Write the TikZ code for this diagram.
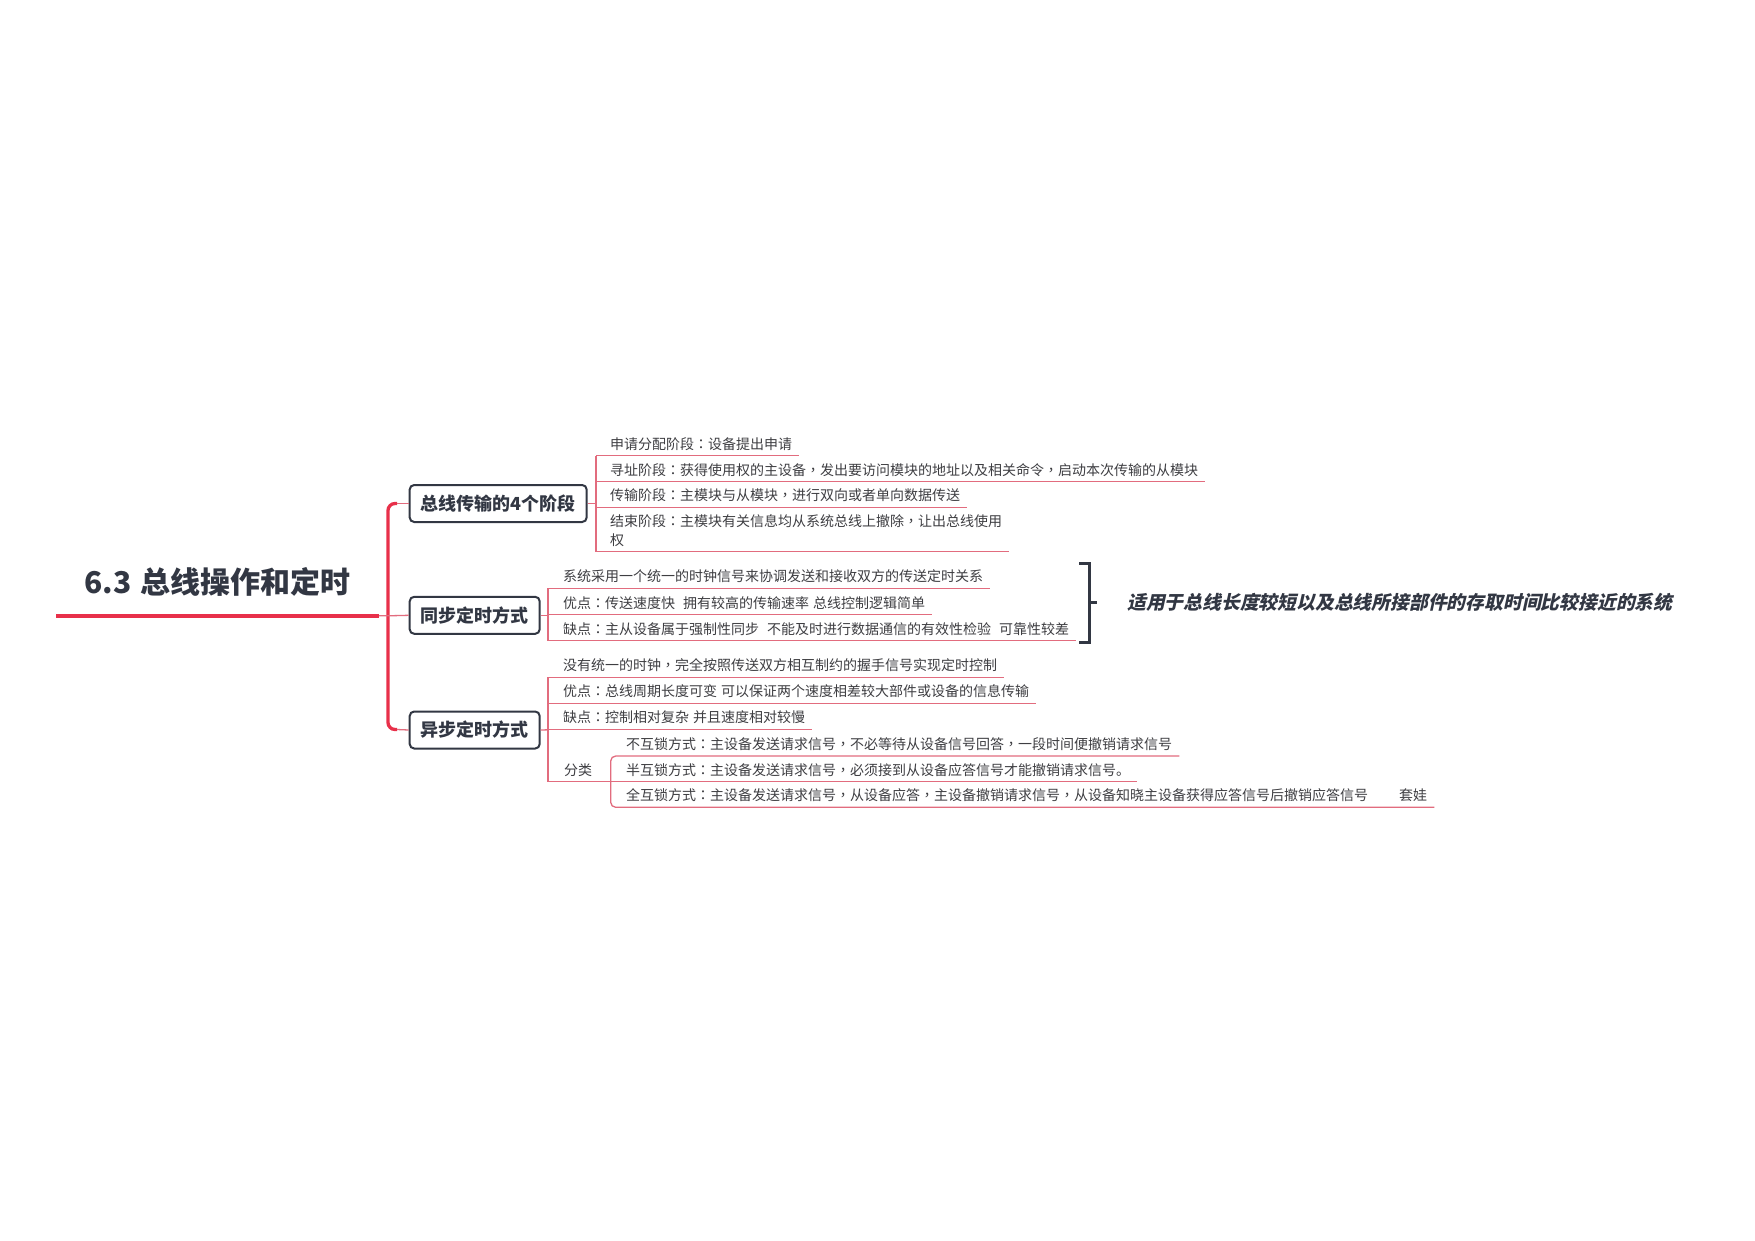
\documentclass[tikz,border=0pt]{standalone}
\usepackage{fontspec}
\setmainfont{Noto Sans CJK SC}
\newfontfamily\slantcjk{Noto Sans CJK SC}[FakeSlant=0.22]
\newfontfamily\tcpunct{Noto Sans CJK TC}
\newcommand\zcolon{{\tcpunct ：}}
\newcommand\zcomma{{\tcpunct ，}}
\usetikzlibrary{calc}
\definecolor{mainred}{RGB}{232,48,74}
\definecolor{thinred}{RGB}{226,108,126}
\definecolor{dark}{RGB}{50,55,67}
\definecolor{txt}{RGB}{62,62,66}
\begin{document}
\begin{tikzpicture}[x=1pt,y=-1pt,
  thinline/.style={draw=thinred,line width=1.3pt},
  leaf/.style={anchor=base west,inner sep=0pt,font=\fontsize{14}{18.3}\selectfont,text=txt},
  topic/.style={draw=dark,line width=2pt,rounded corners=4.5pt,fill=white,anchor=west,
    inner xsep=11pt,inner ysep=0pt,minimum height=37pt,font=\bfseries\fontsize{18}{22}\selectfont,text=dark},
  bigbrace/.style={draw=mainred,line width=3.3pt,rounded corners=7pt},
  summ/.style={draw=dark,line width=3pt},
]
\useasboundingbox[fill=white] (0,0) rectangle (1755,1240);

% root
\node[anchor=base west,inner sep=0pt,font=\bfseries\fontsize{30}{36}\selectfont,text=dark] (title) at (84.5,593) {6.3\hspace{8.5pt}总线操作和定时};
\coordinate (root) at (56,615.8);
\coordinate (rootend) at (379,615.8);
\coordinate (bmid) at (388,615.8);
\coordinate (btop) at (397,503.5);
\coordinate (bbot) at (397,729.5);
\draw[mainred,line width=4.3pt] (root) -- (rootend);

% topics
\node[topic] (t1) at (408.7,503.5) {总线传输的4个阶段};
\node[topic] (t2) at (408.7,615.3) {同步定时方式};
\node[topic] (t3) at (408.7,730) {异步定时方式};

\draw[bigbrace] (btop) -- (388,503.5) -- (388,729.5) -- (bbot);
\draw[thinline] (rootend) -- (bmid) -- (t2.west);
\draw[thinline] (btop) -- (t1.west);
\draw[thinline] (bbot) -- (t3.west);

% group 1
\coordinate (g1) at (596,503.5);
\draw[thinline] (t1.east) -- (g1);
\node[leaf] (a1) at (610,449.2) {申请分配阶段\zcolon 设备提出申请};
\node[leaf] (a2) at (610,475.2) {寻址阶段\zcolon 获得使用权的主设备\zcomma 发出要访问模块的地址以及相关命令\zcomma 启动本次传输的从模块};
\node[leaf] (a3) at (610,500.8) {传输阶段\zcolon 主模块与从模块\zcomma 进行双向或者单向数据传送};
\node[leaf] (a4) at (610,545.2) {\begin{tabular}[b]{@{}l@{}}结束阶段\zcolon 主模块有关信息均从系统总线上撤除\zcomma 让出总线使用\\权\end{tabular}};
\foreach \n in {a1,a2,a3,a4}
  \draw[thinline] ($(\n.base west)+(-14,6.5)$) -- ($(\n.base east)+(7,6.5)$);
\draw[thinline] ($(a1.base west)+(-14,6.5)$) -- ($(a4.base west)+(-14,6.5)$);

% group 2
\coordinate (g2) at (548,615.3);
\draw[thinline] (t2.east) -- (g2);
\node[leaf] (b1) at (563,581.8) {系统采用一个统一的时钟信号来协调发送和接收双方的传送定时关系};
\node[leaf] (b2) at (563,608) {优点\zcolon 传送速度快\hspace{8pt}拥有较高的传输速率\hspace{4pt}总线控制逻辑简单};
\node[leaf] (b3) at (563,634.2) {缺点\zcolon 主从设备属于强制性同步\hspace{8pt}不能及时进行数据通信的有效性检验\hspace{8pt}可靠性较差};
\foreach \n in {b1,b2,b3}
  \draw[thinline] ($(\n.base west)+(-15,6.5)$) -- ($(\n.base east)+(7,6.5)$);
\draw[thinline] ($(b1.base west)+(-15,6.5)$) -- ($(b3.base west)+(-15,6.5)$);

% summary bracket
\coordinate (s1) at (1079,563);
\coordinate (s2) at (1079,642);
\coordinate (stick) at (1089,602);
\draw[summ] (s1) -- (1089,563) -- (1089,642) -- (s2);
\node[anchor=base west,inner sep=0pt,font=\slantcjk\bfseries\fontsize{18.8}{22}\selectfont,text=dark] (note) at (1127,609) {适用于总线长度较短以及总线所接部件的存取时间比较接近的系统};
\draw[summ] (stick) -- ++(8,0);

% group 3
\coordinate (g3) at (548,729.8);
\draw[thinline] (t3.east) -- (g3);
\node[leaf] (c1) at (563,670.8) {没有统一的时钟\zcomma 完全按照传送双方相互制约的握手信号实现定时控制};
\node[leaf] (c2) at (563,696.8) {优点\zcolon 总线周期长度可变\hspace{4pt}可以保证两个速度相差较大部件或设备的信息传输};
\node[leaf] (c3) at (563,722.8) {缺点\zcolon 控制相对复杂\hspace{4pt}并且速度相对较慢};
\node[leaf] (c4) at (564,775.2) {分类};
\foreach \n in {c1,c2,c3}
  \draw[thinline] ($(\n.base west)+(-15,6.5)$) -- ($(\n.base east)+(7,6.5)$);
\coordinate (sub) at (610.7,781.7);
\draw[thinline] ($(c1.base west)+(-15,6.5)$) -- (548,781.7) -- (sub);

\node[leaf] (d1) at (626,749.5) {不互锁方式\zcolon 主设备发送请求信号\zcomma 不必等待从设备信号回答\zcomma 一段时间便撤销请求信号};
\node[leaf] (d2) at (626,775.2) {半互锁方式\zcolon 主设备发送请求信号\zcomma 必须接到从设备应答信号才能撤销请求信号。};
\node[leaf] (d3) at (626,800.8) {全互锁方式\zcolon 主设备发送请求信号\zcomma 从设备应答\zcomma 主设备撤销请求信号\zcomma 从设备知晓主设备获得应答信号后撤销应答信号\hspace{31pt}套娃};
\draw[thinline,rounded corners=5pt] ($(d1.base east)+(7,6.5)$) -- ($(d1.base west)+(-15.3,6.5)$) -- ($(d3.base west)+(-15.3,6.5)$) -- ($(d3.base east)+(7,6.5)$);
\draw[thinline] (sub) -- ($(d2.base east)+(7,6.5)$);
\end{tikzpicture}
\end{document}
